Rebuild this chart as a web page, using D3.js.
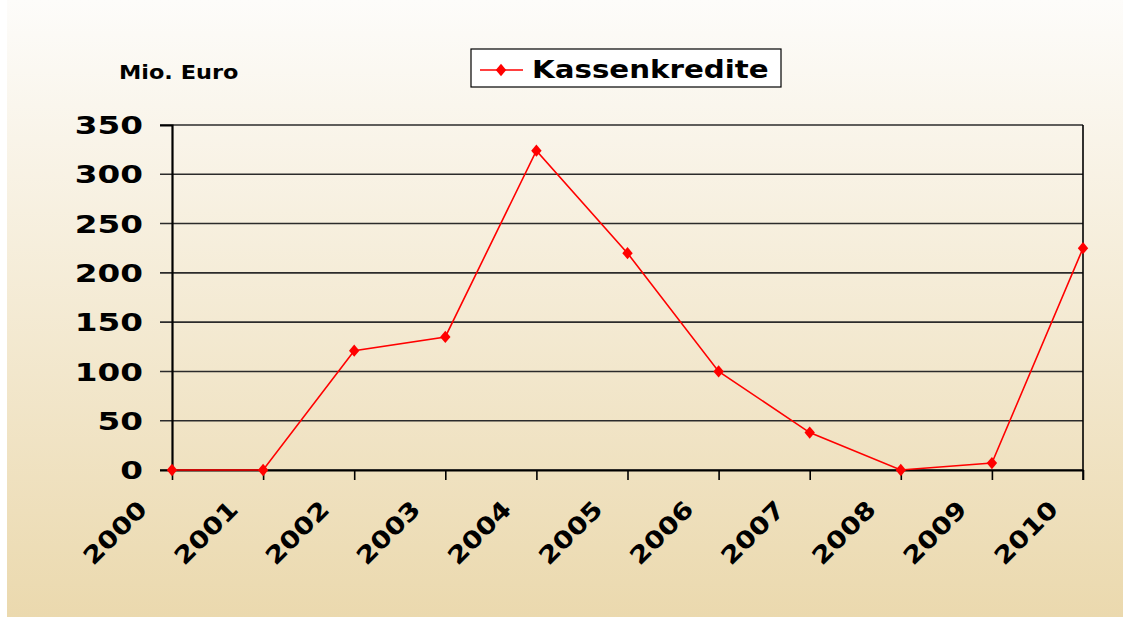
<!DOCTYPE html>
<html>
<head>
<meta charset="utf-8">
<script src="https://cdn.jsdelivr.net/npm/d3@7"></script>
<style>
  html, body { margin: 0; padding: 0; background: #fff; }
  svg { display: block; }
  text { font-family: "DejaVu Sans", Verdana, sans-serif; font-weight: bold; fill: #000; }
</style>
</head>
<body>
<div id="chart"></div>
<script>
// Data
const years = ["2000", "2001", "2002", "2003", "2004", "2005", "2006", "2007", "2008", "2009", "2010"];
const kassenkredite = [0, 0, 121, 135, 324, 220, 100, 38, 0, 7, 225];
const yTicks = [0, 50, 100, 150, 200, 250, 300, 350];
const seriesName = "Kassenkredite";
const unitLabel = "Mio. Euro";

const width = 1123, height = 617;
const margin = {top: 125, right: 40, bottom: 147, left: 172};

// the original font is wider than DejaVu, so stretch text horizontally
function stretch(sel, factor) {
    sel.each(function() {
        const w = this.getComputedTextLength();
        d3.select(this)
            .attr("textLength", w * factor)
            .attr("lengthAdjust", "spacingAndGlyphs");
    });
}

const svg = d3.select("#chart").append("svg")
    .attr("width", width)
    .attr("height", height);

// Background gradient
const defs = svg.append("defs");
const grad = defs.append("linearGradient")
    .attr("id", "bg").attr("x1", 0).attr("y1", 0).attr("x2", 0).attr("y2", 1);
grad.append("stop").attr("offset", "0%").attr("stop-color", "#fdfcfa");
grad.append("stop").attr("offset", "100%").attr("stop-color", "#ebd9ae");

svg.append("rect")
    .attr("x", 7).attr("y", 0)
    .attr("width", width - 7).attr("height", height)
    .attr("fill", "url(#bg)");

const plotW = 1083 - margin.left;
const plotH = 470 - margin.top;

const g = svg.append("g")
    .attr("transform", `translate(${margin.left},${margin.top})`);

const x = d3.scalePoint()
    .domain(years)
    .range([0, plotW]);

const y = d3.scaleLinear()
    .domain([0, 350])
    .range([plotH, 0]);

// Gridlines
g.append("g")
    .selectAll("line")
    .data(yTicks)
    .join("line")
    .attr("x1", -12).attr("x2", plotW)
    .attr("y1", d => y(d)).attr("y2", d => y(d))
    .attr("stroke", "#2b2b2b")
    .attr("stroke-width", 1.6);

// Right border
g.append("line")
    .attr("x1", plotW).attr("x2", plotW)
    .attr("y1", 0).attr("y2", plotH + 10)
    .attr("stroke", "#000").attr("stroke-width", 1.6);

// Y axis
const yAxis = g.append("g")
    .call(d3.axisLeft(y).tickValues(yTicks).tickSize(12).tickPadding(17));
yAxis.select(".domain").attr("stroke", "#000").attr("stroke-width", 2.2);
yAxis.selectAll(".tick line").attr("stroke", "none");
yAxis.selectAll(".tick text")
    .style("font-size", "24px")
    .style("font-family", "'DejaVu Sans', Verdana, sans-serif")
    .style("font-weight", "bold")
    .attr("dy", "0.36em")
    .call(stretch, 1.36);

// X axis
const xAxis = g.append("g")
    .attr("transform", `translate(0,${plotH})`)
    .call(d3.axisBottom(x).tickSize(10).tickSizeOuter(0));
xAxis.select(".domain").attr("stroke", "#000").attr("stroke-width", 2.2);
xAxis.selectAll(".tick line").attr("stroke", "#000").attr("stroke-width", 1.6);
xAxis.selectAll(".tick text")
    .style("font-size", "24px")
    .style("font-family", "'DejaVu Sans', Verdana, sans-serif")
    .style("font-weight", "bold")
    .attr("text-anchor", "end")
    .attr("y", 0)
    .attr("dy", 0)
    .attr("transform", "translate(-24,41) rotate(-45)")
    .call(stretch, 1.17);

// Line
const line = d3.line()
    .x((d, i) => x(years[i]))
    .y(d => y(d));

g.append("path")
    .datum(kassenkredite)
    .attr("d", line)
    .attr("fill", "none")
    .attr("stroke", "#ff0000")
    .attr("stroke-width", 1.6);

const diamond = d3.symbol().type(d3.symbolDiamond).size(60);
g.append("g")
    .selectAll("path")
    .data(kassenkredite)
    .join("path")
    .attr("d", diamond)
    .attr("transform", (d, i) => `translate(${x(years[i])},${y(d)}) scale(1.25,0.85)`)
    .attr("fill", "#ff0000");

// Unit label
svg.append("text")
    .attr("x", 119).attr("y", 79)
    .style("font-size", "20px")
    .text(unitLabel)
    .call(stretch, 1.12);

// Legend
const legend = svg.append("g").attr("transform", "translate(471,49)");
legend.append("rect")
    .attr("width", 310).attr("height", 38)
    .attr("fill", "#fff")
    .attr("stroke", "#000").attr("stroke-width", 1.2);
legend.append("line")
    .attr("x1", 9).attr("x2", 52).attr("y1", 21).attr("y2", 21)
    .attr("stroke", "#ff0000").attr("stroke-width", 1.6);
legend.append("path")
    .attr("d", diamond)
    .attr("transform", "translate(30,21) scale(1.25,0.85)")
    .attr("fill", "#ff0000");
legend.append("text")
    .attr("x", 61).attr("y", 29)
    .style("font-size", "24px")
    .text(seriesName)
    .call(stretch, 1.22);
</script>
</body>
</html>
